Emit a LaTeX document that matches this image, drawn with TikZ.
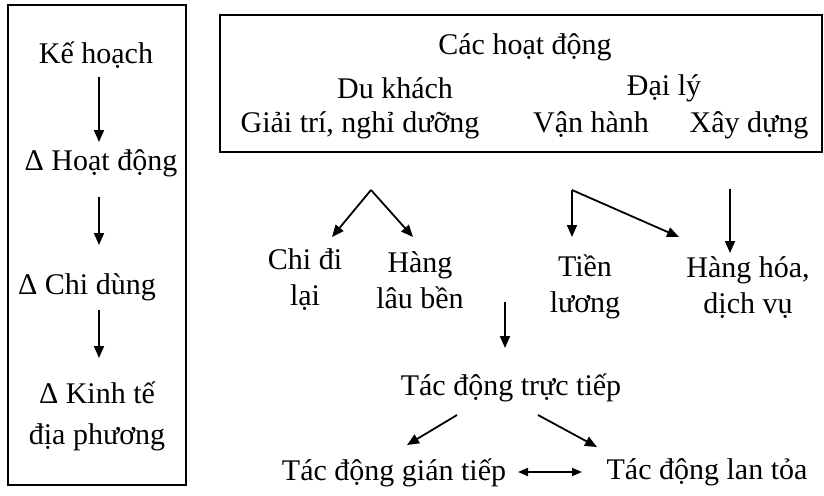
\documentclass[tikz,border=0pt]{standalone}
\usepackage{fontspec}
\setmainfont{Liberation Serif}
\usetikzlibrary{arrows.meta}
\begin{document}
\begin{tikzpicture}[x=1pt,y=-1pt,
  lbl/.style={inner sep=0pt,align=center,font=\fontsize{30}{36}\selectfont},
  arr/.style={line width=1.8pt,-{Triangle[length=12pt,width=10pt]}},
  darr/.style={line width=1.8pt,{Triangle[length=10pt,width=8pt]}-{Triangle[length=10pt,width=8pt]}},
  frame/.style={line width=1.8pt}]
\useasboundingbox (0,0) rectangle (824,495);
\fill[white] (0,0) rectangle (824,495);
% frames
\draw[frame] (8,5) rectangle (186,485);
\draw[frame] (220,15) rectangle (822,152);
% left column
\node[lbl] (kh) at (96,55) {Kế hoạch};
\node[lbl] (hd) at (101,163) {Δ Hoạt động};
\node[lbl] (cd) at (87,287) {Δ Chi dùng};
\node[lbl] (kt) at (97,416) {Δ Kinh tế\\[5pt]địa phương};
\coordinate (a1s) at (99,77);  \coordinate (a1e) at (99,142);
\coordinate (a2s) at (99,197); \coordinate (a2e) at (99,245);
\coordinate (a3s) at (99,310); \coordinate (a3e) at (99,358);
\draw[arr] (a1s) -- (a1e);
\draw[arr] (a2s) -- (a2e);
\draw[arr] (a3s) -- (a3e);
% top box
\node[lbl] (cac) at (525,47) {Các hoạt động};
\node[lbl] (dk) at (395,88) {Du khách};
\node[lbl] (dl) at (664,88) {Đại lý};
\node[lbl] (gt) at (360,125) {Giải trí, nghỉ dưỡng};
\node[lbl] (vh) at (591,125) {Vận hành};
\node[lbl] (xd) at (749,125) {Xây dựng};
% middle row
\node[lbl] (chidi) at (305,280) {Chi đi\\lại};
\node[lbl] (hlb) at (420,280) {Hàng\\lâu bền};
\node[lbl] (tl) at (585,287) {Tiền\\lương};
\node[lbl] (hh) at (748,288) {Hàng hóa,\\dịch vụ};
\coordinate (ap1) at (371,190);
\coordinate (e1) at (332,237); \coordinate (e2) at (413,237);
\coordinate (ap2) at (572,190);
\coordinate (e3) at (572,237); \coordinate (e4) at (679,237);
\coordinate (s5) at (730,189); \coordinate (e5) at (730,253);
\draw[arr] (ap1) -- (e1);
\draw[arr] (ap1) -- (e2);
\draw[arr] (ap2) -- (e3);
\draw[arr] (ap2) -- (e4);
\draw[arr] (s5) -- (e5);
% bottom
\node[lbl] (tt) at (511,388) {Tác động trực tiếp};
\node[lbl] (gtiep) at (394,473) {Tác động gián tiếp};
\node[lbl] (lt) at (707,472) {Tác động lan tỏa};
\coordinate (s6) at (505,302); \coordinate (e6) at (505,348);
\draw[arr] (s6) -- (e6);
\coordinate (s7) at (457,415); \coordinate (e7) at (407,445);
\coordinate (s8) at (538,415); \coordinate (e8) at (597,447);
\draw[arr] (s7) -- (e7);
\draw[arr] (s8) -- (e8);
\coordinate (d1) at (518,472); \coordinate (d2) at (582,472);
\draw[darr] (d1) -- (d2);
\end{tikzpicture}
\end{document}
